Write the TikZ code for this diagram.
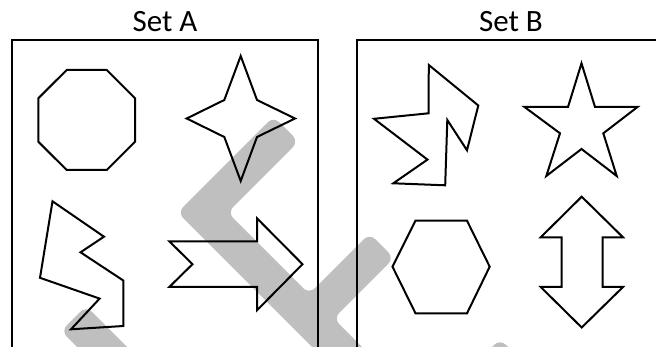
\documentclass[tikz,border=0pt]{standalone}
\usepackage{fontspec}
\setmainfont{Carlito}
\tikzset{
  shapeline/.style={draw=black, line width=2pt, line join=miter, miter limit=20},
  frameline/.style={draw=black, line width=2.6pt},
  wmark/.style={fill=gray!50, rounded corners=8pt},
  settitle/.style={font=\fontsize{31}{31}\selectfont, anchor=base, inner sep=0pt}
}
\begin{document}
\begin{tikzpicture}[x=1pt,y=-1pt]
\useasboundingbox (0,0) rectangle (656,347);
\clip (0,0) rectangle (656,347);
% watermark strokes
\fill[wmark] (273.5,116.5) -- (298.5,141.5) -- (227.5,212.5) -- (309,294) -- (369.5,233.5) -- (394,258) -- (333.5,318.5) -- (375,360) -- (325,360) -- (177.5,212.5) -- cycle;
\fill[wmark] (86,306) -- (140,360) -- (90,360) -- (61,331) -- cycle;
\fill[wmark] (500,339) -- (525,364) -- (509,380) -- (459,380) -- cycle;
% frames
\draw[frameline] (12,360) -- (12,40) -- (318,40) -- (318,360);
\draw[frameline] (357,360) -- (357,40) -- (670,40);
% titles
\node[settitle] (titleA) at (165,32) {Set A};
\node[settitle] (titleB) at (511,32) {Set B};
% Set A shapes
\draw[shapeline] (66.7,70) -- (106.7,70) -- (135,98.3) -- (135,141.7) -- (106.7,170) -- (66.7,170) -- (38.3,141.7) -- (38.3,98.3) -- cycle;
\draw[shapeline] (240.7,56) -- (257,100) -- (295,118.5) -- (257,137) -- (240.7,181) -- (224.3,137) -- (186.7,118.5) -- (224.3,100) -- cycle;
\draw[shapeline] (52.5,201.3) -- (104,236.7) -- (80.5,252.3) -- (123.3,280.5) -- (123.3,326) -- (71,329.3) -- (99.6,298.6) -- (40,277.8) -- cycle;
\draw[shapeline] (169.3,241.3) -- (257,241.3) -- (257,218.3) -- (302.5,264.2) -- (257,310.3) -- (257,287) -- (169.3,287) -- (192.5,264.2) -- cycle;
% Set B shapes
\draw[shapeline] (428.8,65) -- (478.3,105.5) -- (467,150.3) -- (447.3,120) -- (445.2,185.3) -- (393.3,183.3) -- (427.5,159.6) -- (374,118.8) -- (428.5,113.3) -- cycle;
\draw[shapeline] (581.5,63.3) -- (595,107) -- (637.5,107) -- (603.3,133.3) -- (616.7,176) -- (581.5,149) -- (546.3,176) -- (560,133.3) -- (524.5,107) -- (568,107) -- cycle;
\draw[shapeline] (415.5,220.7) -- (467,220.7) -- (489.7,266.7) -- (467,313.3) -- (415.5,313.3) -- (392.5,266.7) -- cycle;
\draw[shapeline] (581.7,196.7) -- (623,237.3) -- (602.7,237.3) -- (602.7,287) -- (623,287) -- (581.7,327.5) -- (540.7,287) -- (561.7,287) -- (561.7,237.3) -- (540.7,237.3) -- cycle;
\end{tikzpicture}
\end{document}
